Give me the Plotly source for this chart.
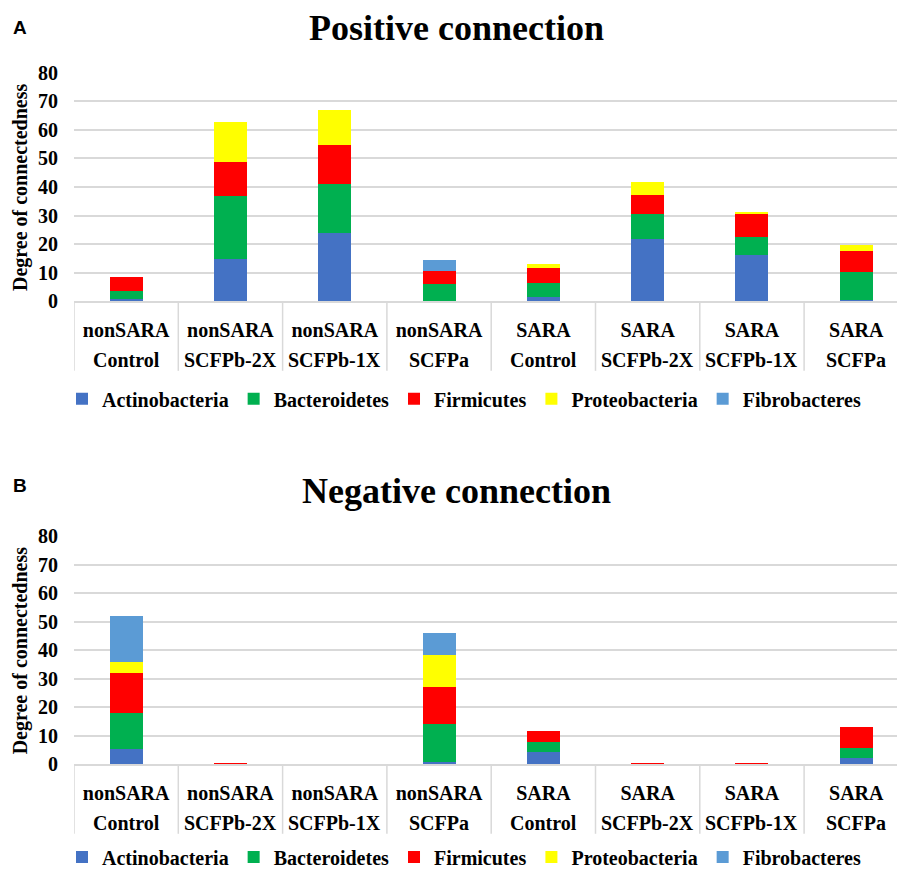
import plotly.graph_objects as go

# ---------------- data ----------------
groups = ["nonSARA", "nonSARA", "nonSARA", "nonSARA", "SARA", "SARA", "SARA", "SARA"]
treatments = ["Control", "SCFPb-2X", "SCFPb-1X", "SCFPa", "Control", "SCFPb-2X", "SCFPb-1X", "SCFPa"]
categories = [g + " " + t for g, t in zip(groups, treatments)]

phyla = ["Actinobacteria", "Bacteroidetes", "Firmicutes", "Proteobacteria", "Fibrobacteres"]
colors = ["#4472C4", "#00B050", "#FF0000", "#FFFF00", "#5B9BD5"]

pos_actinobacteria = [1.0, 15.0, 23.8, 0.0, 1.4, 21.9, 16.2, 0.6]
pos_bacteroidetes = [2.5, 21.8, 17.4, 6.1, 5.0, 8.6, 6.2, 9.6]
pos_firmicutes = [5.1, 11.9, 13.5, 4.7, 5.2, 6.6, 8.0, 7.4]
pos_proteobacteria = [0.0, 14.1, 12.4, 0.0, 1.5, 4.5, 0.7, 2.0]
pos_fibrobacteres = [0.0, 0.0, 0.0, 3.8, 0.0, 0.0, 0.0, 0.0]

neg_actinobacteria = [5.3, 0.0, 0.0, 0.8, 4.4, 0.0, 0.0, 2.2]
neg_bacteroidetes = [12.8, 0.0, 0.0, 13.4, 3.3, 0.0, 0.0, 3.4]
neg_firmicutes = [13.8, 0.25, 0.0, 13.0, 4.0, 0.2, 0.25, 7.5]
neg_proteobacteria = [4.0, 0.0, 0.0, 11.1, 0.0, 0.0, 0.0, 0.0]
neg_fibrobacteres = [16.2, 0.0, 0.0, 7.7, 0.0, 0.0, 0.0, 0.0]

y_ticks = [0, 10, 20, 30, 40, 50, 60, 70, 80]

pos_series = [pos_actinobacteria, pos_bacteroidetes, pos_firmicutes, pos_proteobacteria, pos_fibrobacteres]
neg_series = [neg_actinobacteria, neg_bacteroidetes, neg_firmicutes, neg_proteobacteria, neg_fibrobacteres]

# ---------------- layout helpers ----------------
W, H = 897, 877
SERIF = "Liberation Serif, Times New Roman, serif"
GRID = "#d9d9d9"


def py(px):
    return 1 - px / H


def pxx(px):
    return px / W


fig = go.Figure()

for name, col, vals in zip(phyla, colors, pos_series):
    fig.add_trace(go.Bar(x=categories, y=vals, name=name, marker=dict(color=col, line=dict(width=0)),
                         xaxis="x", yaxis="y", legend="legend"))
for name, col, vals in zip(phyla, colors, neg_series):
    fig.add_trace(go.Bar(x=categories, y=vals, name=name, marker=dict(color=col, line=dict(width=0)),
                         xaxis="x2", yaxis="y2", legend="legend2"))

x_left = 74
cat_w = 104.3
x_range = [-0.5, -0.5 + (W - x_left) / cat_w]

panels = [
    ("xaxis", "yaxis", 303.8, 73.3, "x", "y"),
    ("xaxis2", "yaxis2", 770.5, 540.7, "x2", "y2"),
]

axis_common_x = dict(
    type="category", categoryorder="array", categoryarray=categories,
    range=x_range, domain=[pxx(x_left), 1],
    tickmode="array", tickvals=categories, ticktext=groups,
    tickfont=dict(family=SERIF, size=20, color="#000", weight="bold"),
    ticks="", showgrid=False, showline=True, linecolor=GRID, linewidth=2,
    ticklabelstandoff=10, automargin=False, fixedrange=True,
)

shapes = []
annotations = []
for xk, yk, y0px, ytpx, xref, yref in panels:
    xa = dict(axis_common_x)
    xa["anchor"] = yref
    fig.update_layout({xk: xa})
    fig.update_layout({yk: dict(
        range=[0, 80], domain=[py(y0px), py(ytpx)], anchor=xref,
        tickmode="array", tickvals=y_ticks,
        tickfont=dict(family=SERIF, size=20, color="#000", weight="bold"),
        showgrid=True, gridcolor=GRID, gridwidth=2, zeroline=False,
        showline=False, ticks="", ticklabelstandoff=15, automargin=False, fixedrange=True,
    )})
    for i in range(len(categories) + 1):
        shapes.append(dict(type="line", xref=xref, yref="paper", x0=i - 0.5, x1=i - 0.5,
                           y0=py(y0px), y1=py(y0px + 70), line=dict(color=GRID, width=1.5)))
    for c, t in zip(categories, treatments):
        annotations.append(dict(x=c, y=py(y0px + 59), xref=xref, yref="paper", text=t,
                                showarrow=False, xanchor="center", yanchor="middle",
                                font=dict(family=SERIF, size=20, color="#000", weight="bold")))
    annotations.append(dict(x=pxx(20), y=py((y0px + ytpx) / 2), xref="paper", yref="paper",
                            text="Degree of connectedness", textangle=-90, showarrow=False,
                            xanchor="center", yanchor="middle",
                            font=dict(family=SERIF, size=20, color="#000", weight="bold")))

annotations += [
    dict(x=pxx(457), y=py(28), xref="paper", yref="paper", text="Positive connection", showarrow=False,
         xanchor="center", yanchor="middle", font=dict(family=SERIF, size=36, color="#000", weight="bold")),
    dict(x=pxx(457), y=py(495), xref="paper", yref="paper", text="Negative connection", showarrow=False,
         xanchor="center", yanchor="middle", font=dict(family=SERIF, size=36, color="#000", weight="bold")),
    dict(x=pxx(11), y=py(28), xref="paper", yref="paper", text="A", showarrow=False,
         xanchor="left", yanchor="middle", font=dict(family="Liberation Sans, Arial", size=19, color="#000", weight="bold")),
    dict(x=pxx(11), y=py(489), xref="paper", yref="paper", text="B", showarrow=False,
         xanchor="left", yanchor="middle", font=dict(family="Liberation Sans, Arial", size=19, color="#000", weight="bold")),
]

legend_common = dict(orientation="h", xanchor="left", yanchor="middle", bgcolor="rgba(0,0,0,0)",
                     font=dict(family=SERIF, size=20, color="#000", weight="bold"),
                     traceorder="normal", itemclick=False, itemdoubleclick=False)

fig.update_layout(
    width=W, height=H,
    margin=dict(l=0, r=0, t=0, b=0),
    paper_bgcolor="white", plot_bgcolor="white",
    barmode="stack", bargap=0.684,
    showlegend=True,
    legend=dict(legend_common, x=pxx(62), y=py(402)),
    legend2=dict(legend_common, x=pxx(62), y=py(864)),
    shapes=shapes, annotations=annotations,
)

post = (
    "document.documentElement.style.margin='0px';"
    "document.body.style.margin='0px';"
)
fig.write_html("out.html", config={"displayModeBar": False}, post_script=post)
